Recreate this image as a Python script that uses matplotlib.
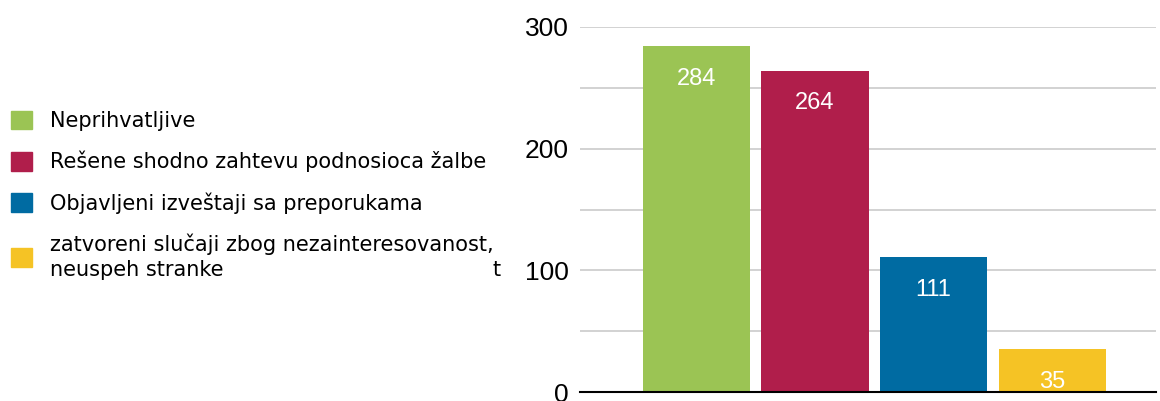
import matplotlib.pyplot as plt
from matplotlib.patches import Patch

# chart data
categories = ["Neprihvatljive",
              "Rešene shodno zahtevu podnosioca žalbe",
              "Objavljeni izveštaji sa preporukama",
              "zatvoreni slučaji zbog nezainteresovanost,\nneuspeh stranke"]
values = [284, 264, 111, 35]
colors = ["#9BC454", "#B01E4B", "#006BA2", "#F5C325"]
y_ticks = [0, 100, 200, 300]
y_grid = [0, 50, 100, 150, 200, 250, 300]

fig = plt.figure(figsize=(11.6, 4.01), dpi=100)
ax = fig.add_axes([0.5, 0.0224, 0.4966, 0.9103])

x = list(range(len(values)))
bars = ax.bar(x, values, width=0.903, color=colors, zorder=2)

# value labels inside the top of each bar
for xi, v in zip(x, values):
    ax.annotate(str(v), (xi, v), xytext=(0, -23.5), textcoords="offset points",
                ha="center", va="center", color="white", fontsize=17,
                family="Liberation Sans")

ax.set_xlim(-0.983, 3.878)
ax.set_ylim(0, 300)
ax.set_yticks(y_ticks)
ax.set_yticks(y_grid, minor=True)
ax.set_xticks([])
ax.grid(axis="y", which="both", color="#cfcfcf", linewidth=1.3, zorder=0)
ax.tick_params(axis="y", which="both", length=0, pad=8, labelsize=19)
for lab in ax.get_yticklabels():
    lab.set_family("Liberation Sans")
for s in ["top", "right", "left"]:
    ax.spines[s].set_visible(False)
ax.spines["bottom"].set_linewidth(1.5)
ax.spines["bottom"].set_zorder(3)

ax.set_ylabel("t", rotation=0, fontsize=15, family="DejaVu Sans")
ax.yaxis.set_label_coords(-0.144, 0.307)

# legend on the left
handles = [Patch(color=c) for c in colors]
leg = fig.legend(handles, categories, loc="center left", bbox_to_anchor=(0.0045, 0.513),
                 frameon=False, prop={"family": "DejaVu Sans", "size": 15},
                 handlelength=1.0, handleheight=1.0, handletextpad=0.85,
                 labelspacing=0.95, borderaxespad=0.0, borderpad=0.3)
for t in leg.get_texts():
    t.set_linespacing(1.3)

plt.savefig("out.png", dpi=100)
